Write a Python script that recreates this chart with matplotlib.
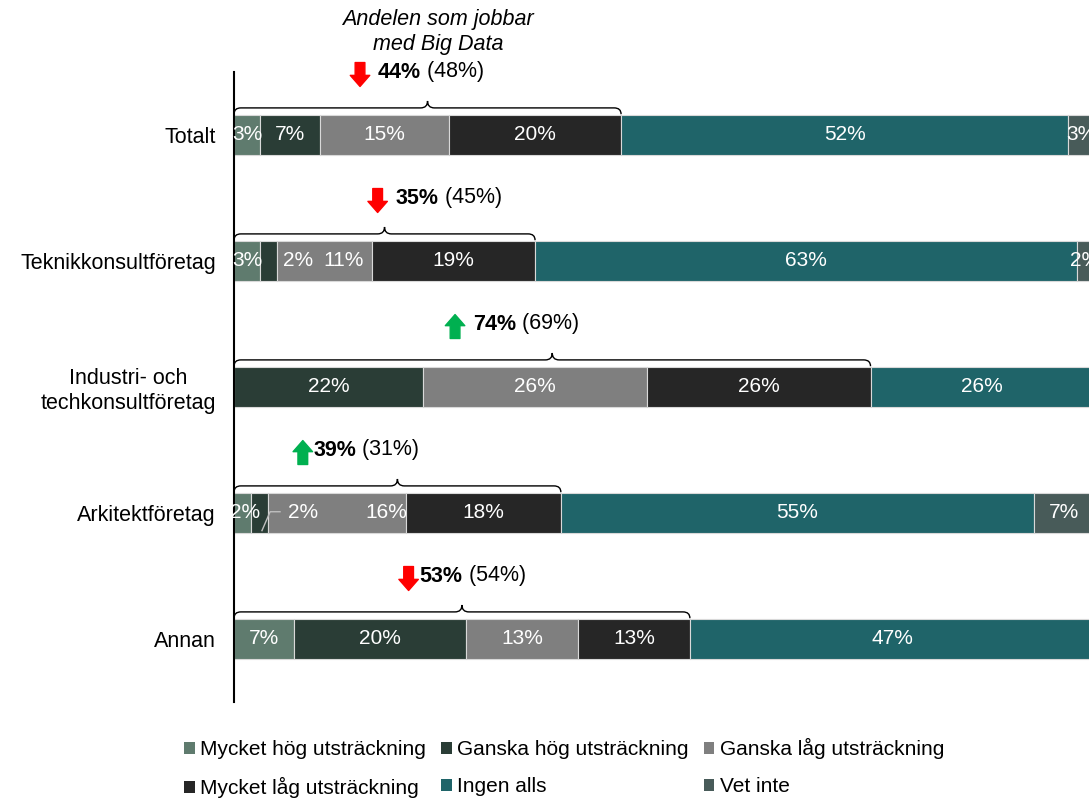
import matplotlib
matplotlib.use("Agg")
import matplotlib.pyplot as plt
from matplotlib.patches import Patch, PathPatch
from matplotlib.path import Path
import numpy as np

plt.rcParams["font.family"] = ["Liberation Sans", "DejaVu Sans"]

# ======================== data ========================
categories = ["Totalt", "Teknikkonsultföretag", "Industri- och\ntechkonsultföretag",
              "Arkitektföretag", "Annan"]
mycket_hog = [3, 3, 0, 2, 7]
ganska_hog = [7, 2, 22, 2, 20]
ganska_lag = [15, 11, 26, 16, 13]
mycket_lag = [20, 19, 26, 18, 13]
ingen_alls = [52, 63, 26, 55, 47]
vet_inte = [3, 2, 0, 7, 0]
share_now = [44, 35, 74, 39, 53]
share_prev = [48, 45, 69, 31, 54]

series_names = ["Mycket hög utsträckning", "Ganska hög utsträckning", "Ganska låg utsträckning",
                "Mycket låg utsträckning", "Ingen alls", "Vet inte"]
series = [mycket_hog, ganska_hog, ganska_lag, mycket_lag, ingen_alls, vet_inte]
colors = ["#5f7b6e", "#2a3d36", "#7f7f7f", "#262626", "#1f6469", "#485b59"]

# label layout (x in percent units)
label_shift = {(1, 1): 7.4, (1, 2): 12.7, (3, 0): 1.3, (3, 1): 8.0, (3, 2): 17.7}
arrow_x = [14.65, 16.7, 25.7, 8.0, 20.3]
text_x = [16.7, 18.8, 27.8, 9.2, 21.6]

FS = 15.5

fig = plt.figure(figsize=(10.89, 8.01), dpi=100)
ax = fig.add_axes([234 / 1089, 99 / 801, 855 / 1089, 630 / 801])

y = np.arange(len(categories))
left = np.zeros(len(categories))
for s, (vals, name, col) in enumerate(zip(series, series_names, colors)):
    vals = np.array(vals, dtype=float)
    mask = vals > 0
    ax.barh(y[mask], vals[mask], left=left[mask], height=0.32, color=col,
            edgecolor="#d9d9d9", linewidth=0.8)
    for i, v in enumerate(vals):
        if v <= 0:
            continue
        xc = label_shift.get((i, s), left[i] + v / 2)
        ax.text(xc, y[i], f"{v:.0f}%", color="white", ha="center", va="center", fontsize=15)
    left += vals

# leader line for small segment in Arkitektföretag
ax.plot([3.25, 4.2, 5.35], [3.14, 2.99, 2.99], color="#bfbfbf", lw=1)


def draw_brace(ax, x0, x1, yc):
    yl = yc - 0.215
    yb = yc - 0.165
    yt = yc - 0.27
    d = 0.8
    xm = (x0 + x1) / 2
    verts = [(x0, yb), (x0, yl), (x0 + d, yl),
             (xm - d, yl), (xm, yl), (xm, yt),
             (xm, yl), (xm + d, yl),
             (x1 - d, yl), (x1, yl), (x1, yb)]
    codes = [Path.MOVETO, Path.CURVE3, Path.CURVE3,
             Path.LINETO, Path.CURVE3, Path.CURVE3,
             Path.CURVE3, Path.CURVE3,
             Path.LINETO, Path.CURVE3, Path.CURVE3]
    ax.add_patch(PathPatch(Path(verts, codes), fill=False, edgecolor="black",
                           lw=1.0, clip_on=False))


for i in range(len(categories)):
    end = mycket_hog[i] + ganska_hog[i] + ganska_lag[i] + mycket_lag[i]
    draw_brace(ax, 0, end, y[i])

    down = share_now[i] < share_prev[i]
    col = "#ff0000" if down else "#00b050"
    ya, yb_ = y[i] - 0.575, y[i] - 0.385
    if not down:
        ya, yb_ = yb_, ya
    ax.annotate("", xy=(arrow_x[i], yb_), xytext=(arrow_x[i], ya),
                arrowprops=dict(width=7, headwidth=14, headlength=8, color=col, shrink=0))

    t = ax.text(text_x[i], y[i] - 0.5, f"{share_now[i]}%", fontweight="bold",
                fontsize=FS, ha="left", va="center")
    ax.annotate(f" ({share_prev[i]}%)", xy=(1, 0), xycoords=t, ha="left", va="bottom",
                fontsize=FS)

ax.text(23.7, -0.82, "Andelen som jobbar\nmed Big Data", style="italic",
        ha="center", va="center", fontsize=FS, linespacing=1.25)

ax.set_xlim(0, 99.4)
ax.set_ylim(4.5, -0.5)
ax.set_xticks([])
ax.set_yticks(y, categories)
ax.tick_params(axis="y", length=0, pad=13, labelsize=FS)
for lab in ax.get_yticklabels():
    lab.set_multialignment("center")
for sp in ["top", "right", "bottom"]:
    ax.spines[sp].set_visible(False)
ax.spines["left"].set_linewidth(1.5)

handles = [Patch(facecolor=c, label=n) for c, n in zip(colors, series_names)]
order = [0, 3, 1, 4, 2, 5]
fig.legend([handles[k] for k in order], [series_names[k] for k in order],
           loc="center", bbox_to_anchor=(0.518, 0.041), ncol=3, frameon=False,
           fontsize=15, handlelength=0.5, handleheight=0.5, handletextpad=0.25,
           columnspacing=0.75, labelspacing=0.85, borderpad=0)

fig.savefig("out.png", dpi=100)
